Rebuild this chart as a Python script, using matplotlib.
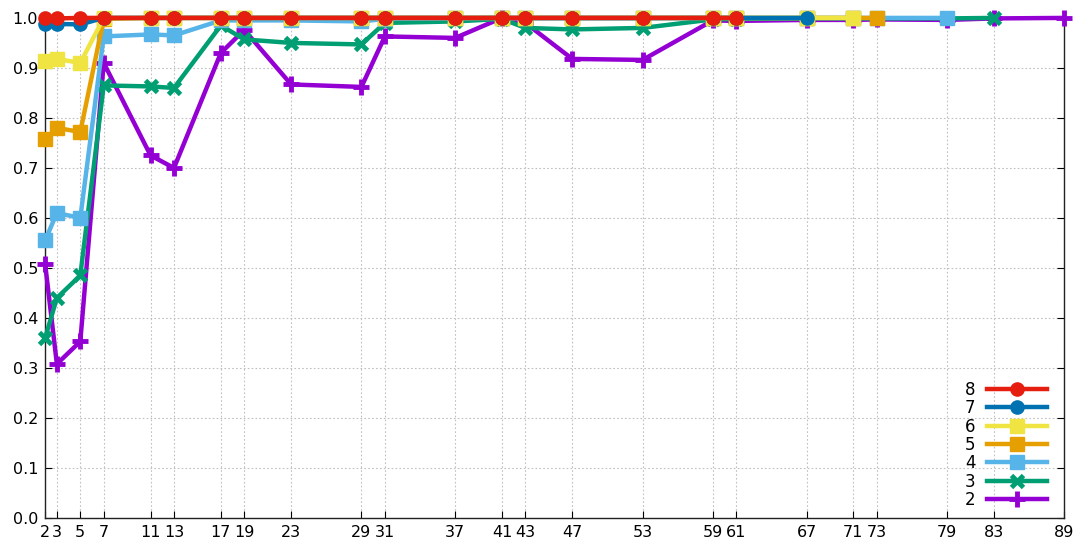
"""Convergence ratio per prime, one line per series (gnuplot look)."""

import matplotlib.pyplot as plt

primes = [2, 3, 5, 7, 11, 13, 17, 19, 23, 29, 31, 37, 41, 43, 47, 53, 59, 61,
          67, 71, 73, 79, 83, 89]

s8 = [1.0, 0.999, 1.0, 1.0, 1.0, 1.0, 1.0, 1.0, 1.0, 1.0, 1.0, 1.0, 1.0, 1.0,
      1.0, 1.0, 1.0, 1.0]
s7 = [0.988, 0.988, 0.987, 1.0, 1.0, 1.0, 1.0, 1.0, 1.0, 1.0, 1.0, 1.0, 1.0,
      1.0, 1.0, 1.0, 1.0, 1.0, 1.0]
s6 = [0.913, 0.918, 0.910, 1.0, 1.0, 1.0, 1.0, 1.0, 1.0, 1.0, 1.0, 1.0, 1.0,
      1.0, 1.0, 1.0, 1.0, 1.0, 1.0, 1.0]
s5 = [0.757, 0.780, 0.772, 0.998, 1.0, 1.0, 1.0, 1.0, 1.0, 1.0, 1.0, 1.0, 1.0,
      1.0, 1.0, 1.0, 1.0, 1.0, 1.0, 1.0, 1.0]
s4 = [0.555, 0.610, 0.600, 0.963, 0.967, 0.965, 0.995, 0.995, 0.995, 0.993,
      0.998, 0.999, 1.0, 0.999, 0.999, 0.999, 1.0, 1.0, 1.0, 1.0, 1.0, 1.0]
s3 = [0.360, 0.440, 0.485, 0.865, 0.863, 0.860, 0.985, 0.957, 0.950, 0.947,
      0.990, 0.993, 0.998, 0.980, 0.977, 0.980, 0.997, 0.998, 0.999, 0.999,
      0.999, 0.999, 1.0]
s2 = [0.508, 0.308, 0.353, 0.910, 0.725, 0.700, 0.930, 0.976, 0.867, 0.862,
      0.963, 0.960, 1.0, 0.990, 0.918, 0.916, 0.995, 0.994, 0.996, 0.996,
      0.997, 0.996, 0.999, 1.0]

series = [
    ("2", s2, "#9400D3", "+"),
    ("3", s3, "#009E73", "x"),
    ("4", s4, "#56B4E9", "s"),
    ("5", s5, "#E69F00", "s"),
    ("6", s6, "#F0E442", "s"),
    ("7", s7, "#0072B2", "o"),
    ("8", s8, "#E51E10", "o"),
]

fig = plt.figure(figsize=(10.75, 5.43), dpi=100)
ax = fig.add_axes([0.042, 0.046, 0.948, 0.921])

handles = {}
for z, (name, vals, color, marker) in enumerate(series):
    ms = {"+": 11, "x": 9}.get(marker, 9.5)
    mew = 3.5 if marker in "+x" else 1
    (line,) = ax.plot(primes[:len(vals)], vals, color=color, linewidth=3.2,
                      marker=marker, markersize=ms, markeredgewidth=mew,
                      markeredgecolor=color, clip_on=False, zorder=3 + z,
                      label=name)
    handles[name] = line

ax.set_xlim(2, 89)
ax.set_ylim(0, 1.0)
ax.set_xticks(primes)
ax.set_yticks([i / 10 for i in range(11)])
ax.set_yticklabels([f"{i / 10:.1f}" for i in range(11)])
ax.grid(True, color="#c0c0c0", linestyle=(0, (1.5, 2)), linewidth=0.8)
ax.tick_params(direction="in", top=True, right=True, length=5, width=0.8,
               labelsize=11.5, pad=5)
for sp in ax.spines.values():
    sp.set_linewidth(1)
    sp.set_color("#222222")

order = ["8", "7", "6", "5", "4", "3", "2"]
ax.legend([handles[k] for k in order], order, loc="lower right",
          markerfirst=False, frameon=False, fontsize=12, handlelength=3.6,
          handletextpad=0.7, labelspacing=0.02, borderaxespad=0.25,
          borderpad=0.3, bbox_to_anchor=(0.992, 0.0))

fig.savefig("out.png", dpi=100)
